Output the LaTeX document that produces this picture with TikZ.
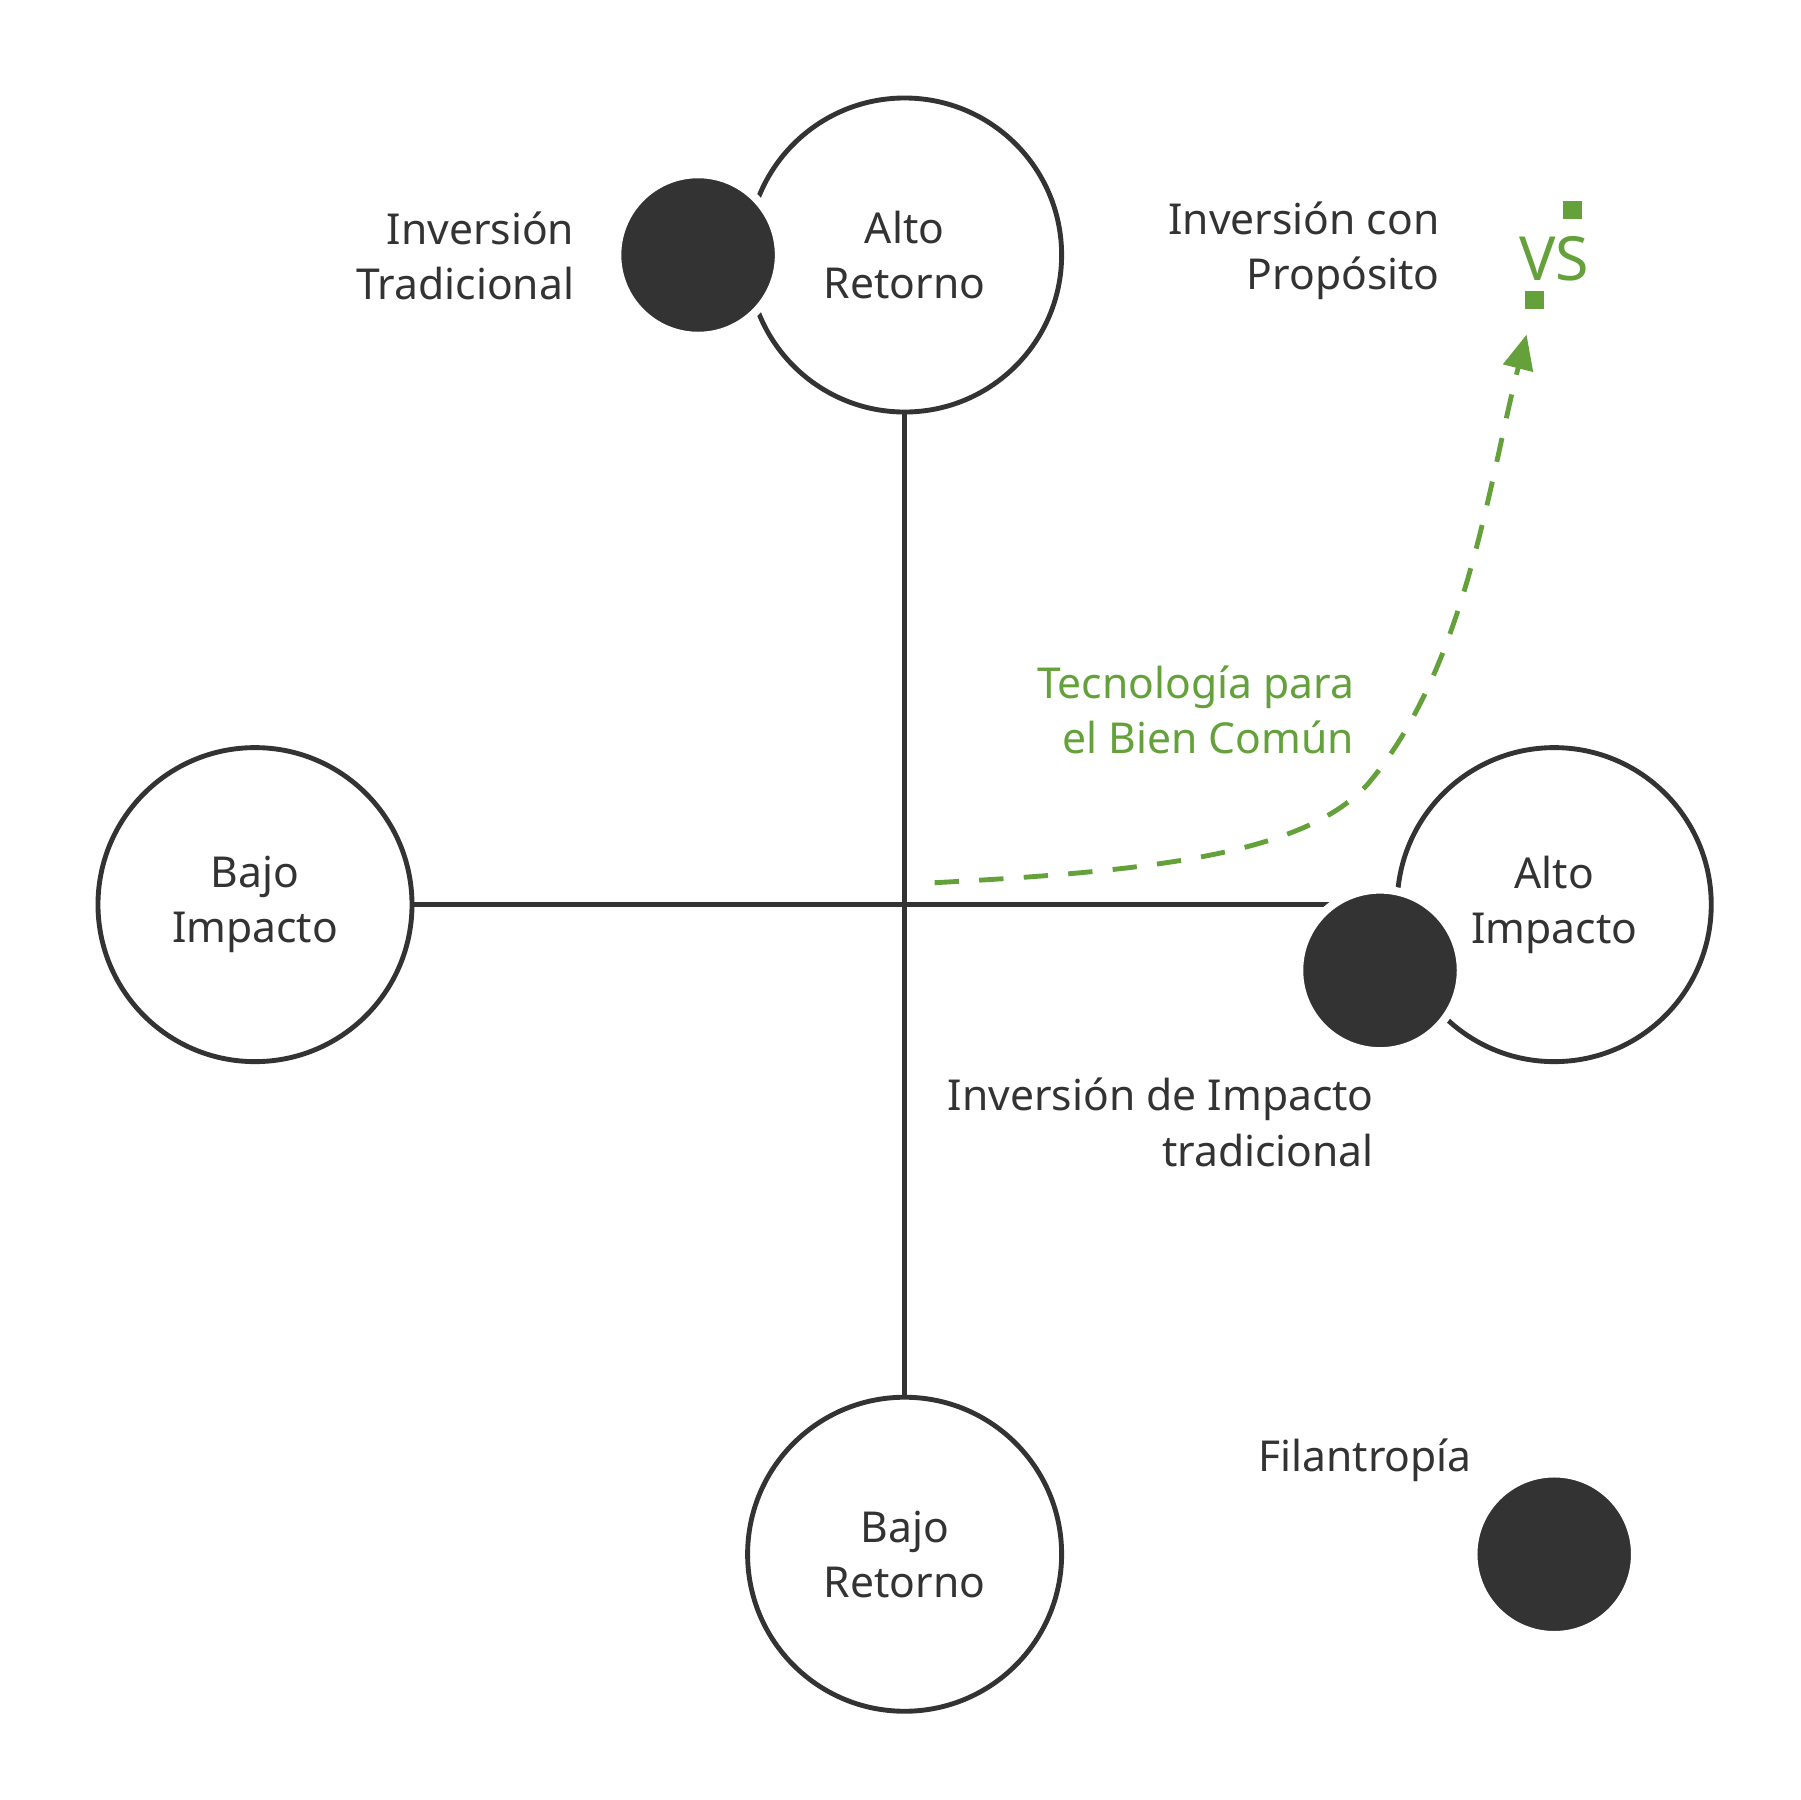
\documentclass[tikz,border=0pt]{standalone}
\usepackage{fontspec}
\setmainfont{Noto Sans}
\usetikzlibrary{arrows.meta,positioning}
\definecolor{ink}{HTML}{333333}
\definecolor{leaf}{HTML}{65A13A}

\begin{document}
\begin{tikzpicture}[x=0.01cm,y=-0.01cm,
  pole/.style={circle, draw=ink, line width=1.2pt, fill=white, minimum size=2.72cm, inner sep=0pt, align=center, font=\fontsize{10.5}{13.6}\selectfont, text=ink},
  dot/.style={circle, draw=white, line width=2pt, fill=ink, minimum size=1.40cm, inner sep=0pt},
  lbl/.style={align=right, font=\fontsize{10.5}{13.6}\selectfont, text=ink},
  axis/.style={draw=ink, line width=1.2pt},
  path/.style={-{Triangle[length=3mm,width=2.6mm]}, leaf, line width=1.2pt, dash pattern=on 6pt off 5pt},
]
\useasboundingbox (0,0) rectangle (1560,1560);

% Axes
\coordinate (o) at (784,784);
\node[pole] (ar) at (784,221) {Alto\\Retorno};
\node[pole] (br) at (784,1347) {Bajo\\Retorno};
\node[pole] (bi) at (221,784) {Bajo\\Impacto};
\node[pole] (ai) at (1347,784) {Alto\\Impacto};
\draw[axis] (ar) -- (br);
\draw[axis] (bi) -- (ai);

% Positions
\node[dot] (trad) at (605,221) {};
\node[lbl, anchor=east] (tradl) at (510,222) {Inversión\\Tradicional};
\node[dot] (imp) at (1196,841) {};
\node[lbl, anchor=north east] (impl) at (1203,922) {Inversión de Impacto\\tradicional};
\node[dot] (fil) at (1347,1347) {};
\node[lbl] (fill) at (1183,1266) {Filantropía};

% Purpose
\node[lbl, font=\fontsize{10.5}{13.6}\selectfont\bfseries, anchor=east] (prop) at (1260,217) {Inversión con\\Propósito};
\node[text=leaf, font=\fontsize{15}{15}\selectfont\bfseries, inner sep=0pt] (vs) at (1347,224) {VS};
\fill[leaf] (1355,174) rectangle (1371,190);
\fill[leaf] (1322,252) rectangle (1338,268);
\coordinate (start) at (810,765);
\coordinate (tip) at (1323,290);
\draw[path] (start) .. controls (1000,755) and (1130,740) .. (1185,680)
  .. controls (1270,580) and (1290,420) .. (tip);
\node[lbl, text=leaf, font=\fontsize{10.5}{13.6}\selectfont\bfseries, anchor=east] (tech) at (1186,615) {Tecnología para\\el Bien Común};
\end{tikzpicture}
\end{document}
